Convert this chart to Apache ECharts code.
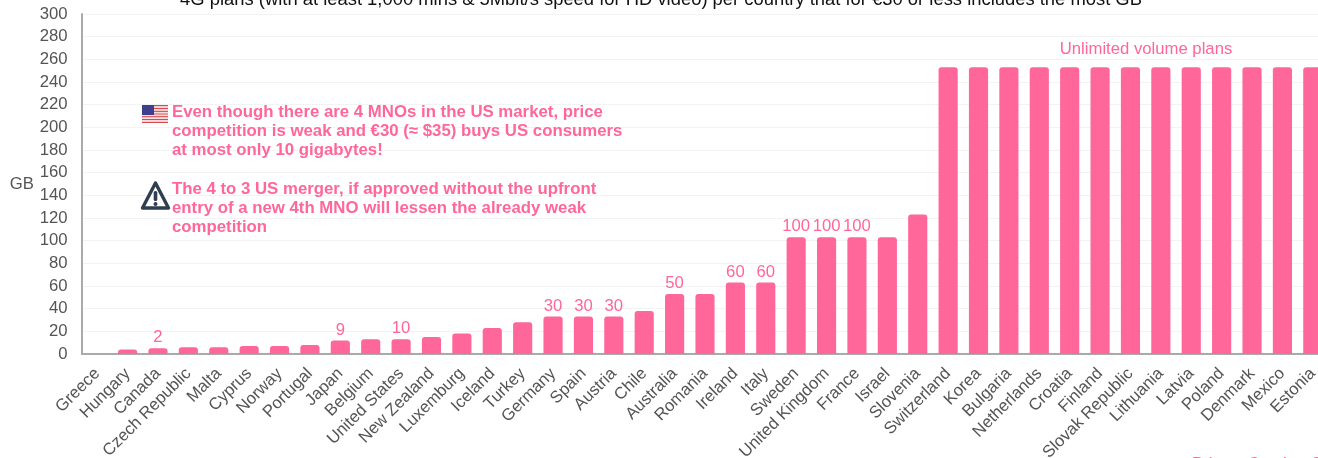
<!DOCTYPE html>
<html><head><meta charset="utf-8">
<style>html,body{margin:0;padding:0;background:#fff;overflow:hidden;width:1318px;height:458px}#c{width:1318px;height:458px}</style>
<script src="https://cdn.jsdelivr.net/npm/echarts@6/dist/echarts.min.js"></script></head>
<body><div id="c"></div>
<script>
const countries = ["Greece","Hungary","Canada","Czech Republic","Malta","Cyprus","Norway","Portugal","Japan","Belgium","United States","New Zealand","Luxemburg","Iceland","Turkey","Germany","Spain","Austria","Chile","Australia","Romania","Ireland","Italy","Sweden","United Kingdom","France","Israel","Slovenia","Switzerland","Korea","Bulgaria","Netherlands","Croatia","Finland","Slovak Republic","Lithuania","Latvia","Poland","Denmark","Mexico","Estonia"];
const gigabytes = [0,4,5,6,6,7,7,8,12,13,13,15,18,23,28,33,33,33,38,53,53,63,63,103,103,103,103,123,253,253,253,253,253,253,253,253,253,253,253,253,253];
const barLabels = ["","","2","","","","","","9","","10","","","","","30","30","30","","50","","60","60","100","100","100","","","","","","","","","","","","","","",""];
const yTicks = {min:0,max:300,step:20};
const titleText = "4G plans (with at least 1,000 mins & 5Mbit/s speed for HD video) per country that for €30 or less includes the most GB";
const note1 = "Even though there are 4 MNOs in the US market, price\ncompetition is weak and €30 (≈ $35) buys US consumers\nat most only 10 gigabytes!";
const note2 = "The 4 to 3 US merger, if approved without the upfront\nentry of a new 4th MNO will lessen the already weak\ncompetition";
const sourceText = "Prices: October 2018";
const PINK = "#ff6699";
const FONT = "'Liberation Sans', Arial, sans-serif";

const stripes = [];
for (let i = 0; i < 7; i++) stripes.push({type:'rect',silent:true,z:10,shape:{x:0,y:i*2.77,width:26,height:1.4},style:{fill:'#d8484f'}});
for (let i = 0; i < 6; i++) stripes.push({type:'rect',silent:true,z:10,shape:{x:0,y:1.4+i*2.77,width:26,height:1.37},style:{fill:'#f0dcdc'}});
stripes.push({type:'rect',silent:true,z:11,shape:{x:0,y:0,width:12,height:10},style:{fill:'#3d3f8f'}});

const chart = echarts.init(document.getElementById('c'), null, {renderer:'canvas'});
chart.setOption({
  animation:false,
  backgroundColor:'#fff',
  textStyle:{fontFamily:FONT},
  title:{text:titleText,left:656,textAlign:'center',top:-14,textStyle:{fontSize:18.4,fontWeight:'normal',color:'#111',fontFamily:FONT}},
  grid:{left:82,top:14,width:1246,height:340,containLabel:false,outerBoundsMode:'none'},
  xAxis:{type:'category',data:countries,
    axisLine:{lineStyle:{color:'#aaa',width:2}},axisTick:{show:false},
    axisLabel:{interval:0,rotate:45,color:'#555',fontSize:16.7,margin:17,fontFamily:FONT}},
  yAxis:{type:'value',min:yTicks.min,max:yTicks.max,interval:yTicks.step,name:'GB',nameLocation:'middle',nameRotate:0,nameGap:48,
    nameTextStyle:{color:'#555',fontSize:16.7,fontFamily:FONT,padding:[12,0,0,0]},
    axisLine:{show:true,lineStyle:{color:'#aaa',width:2}},axisTick:{show:false},
    axisLabel:{color:'#555',fontSize:16.7,margin:14.5,fontFamily:FONT,padding:[2,0,0,0]},
    splitLine:{lineStyle:{color:'#f3f3f3',width:1}}},
  series:[{type:'bar',data:gigabytes,barWidth:'63%',
    itemStyle:{color:PINK,borderRadius:[3,3,0,0]},
    label:{show:true,position:'top',distance:2,color:PINK,fontSize:16.7,fontFamily:FONT,
      formatter:p=>barLabels[p.dataIndex]}}],
  graphic:[
    {type:'text',x:1146,y:49,z:10,silent:true,style:{text:'Unlimited volume plans',fill:PINK,font:'16.7px '+FONT,textAlign:'center',textVerticalAlign:'middle'}},
    {type:'text',x:172,y:103,z:10,silent:true,style:{text:note1,fill:PINK,font:'bold 16.8px '+FONT,lineHeight:19}},
    {type:'text',x:172,y:180,z:10,silent:true,style:{text:note2,fill:PINK,font:'bold 16.8px '+FONT,lineHeight:19}},
    {type:'text',x:1192,y:456,z:10,silent:true,style:{text:sourceText,fill:PINK,font:'16.7px '+FONT}},
    {type:'group',x:142,y:105,children:stripes},
    {type:'group',x:141,y:181,children:[
      {type:'polygon',silent:true,z:10,shape:{points:[[14.5,2],[27.5,27],[1.5,27]]},style:{fill:'#fff',stroke:'#2f3e50',lineWidth:3.4,lineJoin:'round'}},
      {type:'rect',silent:true,z:11,shape:{x:12.7,y:10,width:3.6,height:10,r:1.6},style:{fill:'#2f3e50'}},
      {type:'circle',silent:true,z:11,shape:{cx:14.5,cy:23,r:2},style:{fill:'#2f3e50'}}
    ]}
  ]
});
</script></body></html>
